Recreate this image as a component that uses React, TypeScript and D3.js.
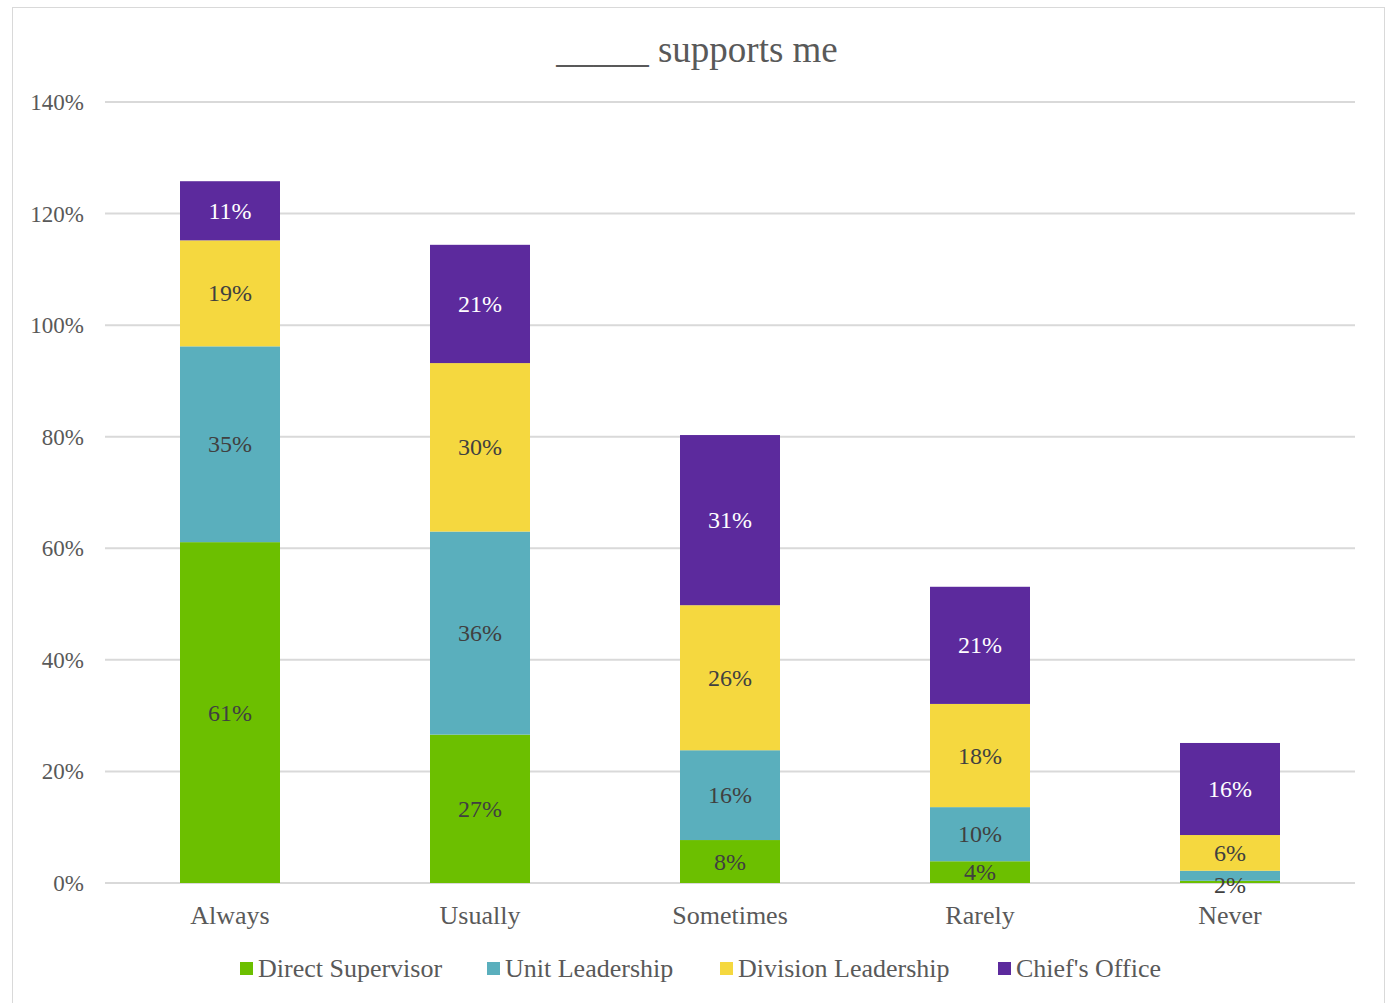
import React from "react";
import * as d3 from "d3";

const categories = ["Always", "Usually", "Sometimes", "Rarely", "Never"];
const seriesNames = ["Direct Supervisor", "Unit Leadership", "Division Leadership", "Chief's Office"];
const directSupervisor = [61.1, 26.6, 7.7, 3.9, 0.4];
const unitLeadership = [35.1, 36.4, 16.1, 9.7, 1.8];
const divisionLeadership = [19.0, 30.2, 26.0, 18.5, 6.4];
const chiefsOffice = [10.6, 21.2, 30.5, 21.0, 16.5];
const labels = [
  ["61%", "27%", "8%", "4%", ""],
  ["35%", "36%", "16%", "10%", "2%"],
  ["19%", "30%", "26%", "18%", "6%"],
  ["11%", "21%", "31%", "21%", "16%"],
];
const yTicks = [0, 20, 40, 60, 80, 100, 120, 140];
const colors = ["#6cbf00", "#5aafbd", "#f5d83f", "#5c2a9d"];
const labelColors = ["#404040", "#404040", "#404040", "#ffffff"];

export default function App() {
  const W = 1389, H = 1003;
  const font = "'Liberation Serif', 'Times New Roman', serif";
  const x = d3.scaleBand().domain(categories).range([105, 1355]).paddingInner(0.6).paddingOuter(0.3);
  const y = d3.scaleLinear().domain([0, 140]).range([883, 102]);
  const series = [directSupervisor, unitLeadership, divisionLeadership, chiefsOffice];
  const rows = categories.map((c, i) => {
    const o: any = { cat: c };
    seriesNames.forEach((s, k) => (o[s] = series[k][i]));
    return o;
  });
  const stacked = d3.stack<any>().keys(seriesNames)(rows);
  const legendX = [240, 487, 720, 998];

  return (
    <svg width={W} height={H} style={{ display: "block", position: "absolute", left: 0, top: 0 }} fontFamily={font}>
      <rect x={12.5} y={7.5} width={1372} height={1000} fill="#fff" stroke="#d9d9d9" />
      <text x={697} y={62} textAnchor="middle" fontSize={37} fill="#595959">_____ supports me</text>
      {yTicks.map((t) => (
        <g key={t}>
          <line x1={105} x2={1355} y1={y(t)} y2={y(t)} stroke="#d9d9d9" strokeWidth={2} />
          <text x={84} y={y(t) + 8} textAnchor="end" fontSize={23} fill="#595959">{t}%</text>
        </g>
      ))}
      {stacked.map((layer, k) => (
        <g key={layer.key}>
          {layer.map((d, i) => (
            <rect key={i} x={x(categories[i])} width={x.bandwidth()} y={y(d[1])} height={y(d[0]) - y(d[1])} fill={colors[k]} />
          ))}
        </g>
      ))}
      {stacked.map((layer, k) => (
        <g key={layer.key + "l"}>
          {layer.map((d, i) => {
            const t = labels[k][i];
            if (!t) return null;
            let cy = (y(d[0]) + y(d[1])) / 2;
            if (y(d[0]) - y(d[1]) < 14) cy = y(d[0]) + 4;
            return (
              <text key={i} x={x(categories[i])! + x.bandwidth() / 2} y={cy + 8} textAnchor="middle" fontSize={24} fill={labelColors[k]}>{t}</text>
            );
          })}
        </g>
      ))}
      {categories.map((c) => (
        <text key={c} x={x(c)! + x.bandwidth() / 2} y={924} textAnchor="middle" fontSize={26} fill="#595959">{c}</text>
      ))}
      {seriesNames.map((s, k) => (
        <g key={s}>
          <rect x={legendX[k]} y={962} width={13} height={13} fill={colors[k]} />
          <text x={legendX[k] + 18} y={977} fontSize={26} fill="#595959">{s}</text>
        </g>
      ))}
    </svg>
  );
}
